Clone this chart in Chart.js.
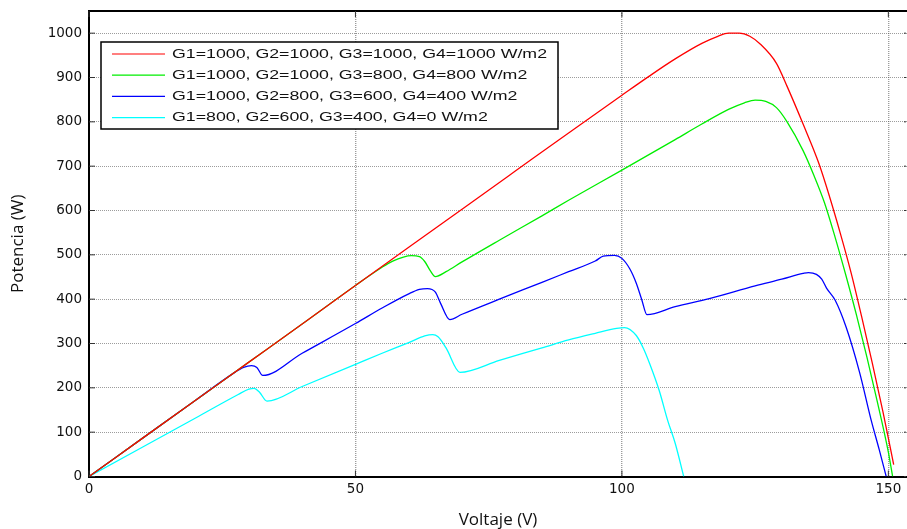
<!DOCTYPE html>
<html>
<head>
<meta charset="utf-8">
<script src="https://cdn.jsdelivr.net/npm/chart.js@4"></script>
<style>
  html, body { margin: 0; padding: 0; background: #fff; overflow: hidden; }
  #pvChart { display: block; }
</style>
</head>
<body>
<canvas id="pvChart" width="907" height="529"></canvas>
<script>
// Curvas P-V bajo distintas irradiancias
const seriesLabels = [
    "G1=1000, G2=1000, G3=1000, G4=1000 W/m2",
    "G1=1000, G2=1000, G3=800, G4=800 W/m2",
    "G1=1000, G2=800, G3=600, G4=400 W/m2",
    "G1=800, G2=600, G3=400, G4=0 W/m2"
];
const seriesColors = ["#ff0000", "#00ee00", "#0000ff", "#00ffff"];

const redV = [0, 10, 20, 30, 40, 50, 60, 70, 80, 90, 100, 105, 110, 115, 118, 120, 122, 124, 126, 129, 131, 134, 137, 139, 141, 143, 145, 147, 149, 151];
const redP = [0, 86, 172, 258, 344, 431, 517, 603, 689, 775, 860, 902, 942, 977, 993, 1000, 1000, 993, 975, 932, 880, 795, 705, 630, 548, 460, 360, 255, 145, 27];

const greenV = [0, 10, 20, 30, 40, 50, 55, 57, 59, 60.5, 62, 63, 64, 65, 67, 70, 77, 85, 90, 100, 110, 115, 120, 123, 125, 127, 129, 131, 134, 136, 138, 140, 142, 144, 146, 148, 150, 150.8];
const greenP = [0, 86, 172, 258, 344, 431, 472, 486, 495, 498, 496, 485, 465, 451, 462, 484, 533, 588, 623, 691, 760, 795, 828, 843, 849, 846, 832, 800, 735, 680, 618, 540, 455, 365, 268, 165, 55, 0];

const blueV = [0, 10, 20, 27, 29, 30.5, 31.5, 32.6, 40, 50, 55, 60, 62, 63.5, 65, 66, 67.7, 70, 77, 85, 90, 95, 96.5, 98.6, 100, 101.5, 102.7, 103.7, 104.7, 110, 116.4, 125, 130, 134, 135, 136.5, 137.5, 138.4, 140, 142.1, 144.6, 146.8, 148.3, 149.6];
const blueP = [0, 86, 172, 232, 246, 250, 246, 228, 278, 345, 380, 412, 422, 424, 416, 390, 354, 366, 400, 438, 462, 486, 497, 499, 492, 468, 436, 400, 365, 383, 401, 430, 445, 458, 460, 456, 445, 425, 398, 336, 235, 126, 60, 0];

const cyanV = [0, 10, 20, 28, 30, 31, 32, 33.4, 40, 50, 55, 60, 63, 64.5, 65.5, 67, 69.6, 77, 85, 90, 95, 99, 100.5, 102.7, 104, 105.2, 107, 108.6, 110, 111.6];
const cyanP = [0, 66, 132, 185, 197, 199, 190, 170, 203, 253, 278, 302, 317, 320, 315, 290, 235, 262, 290, 308, 323, 334, 336, 318, 290, 255, 194, 126, 75, 0];

const xTicksStep = 50;
const yTicksStep = 100;

function toPoints(vs, ps) {
    return vs.map((v, i) => ({ x: v, y: ps[i] }));
}

const allSeries = [[redV, redP], [greenV, greenP], [blueV, blueP], [cyanV, cyanP]];

// marco (arriba) + marcas de division hacia dentro (estilo MATLAB)
const framePlugin = {
    id: "frame",
    afterDatasetsDraw(chart) {
        const { ctx, chartArea: a, scales } = chart;
        ctx.save();
        ctx.strokeStyle = "#000";
        ctx.lineWidth = 2;
        ctx.beginPath();
        ctx.moveTo(a.left, a.top);
        ctx.lineTo(a.right, a.top);
        ctx.stroke();
        ctx.lineWidth = 1;
        ctx.strokeStyle = "#333";
        scales.y.ticks.forEach(t => {
            const y = scales.y.getPixelForValue(t.value);
            ctx.beginPath();
            ctx.moveTo(a.left, y); ctx.lineTo(a.left + 6, y);
            ctx.moveTo(a.right - 3, y); ctx.lineTo(a.right - 1, y);
            ctx.stroke();
        });
        scales.x.ticks.forEach(t => {
            const x = scales.x.getPixelForValue(t.value);
            ctx.beginPath();
            ctx.moveTo(x, a.bottom); ctx.lineTo(x, a.bottom - 6);
            ctx.moveTo(x, a.top); ctx.lineTo(x, a.top + 6);
            ctx.stroke();
        });
        ctx.restore();
    }
};

// leyenda con recuadro dentro del area del grafico
const boxLegend = {
    id: "boxLegend",
    afterDraw(chart) {
        const { ctx, chartArea: a } = chart;
        const bx = a.left + 12, by = a.top + 31, bw = 457, bh = 87;
        ctx.save();
        ctx.fillStyle = "#fff";
        ctx.fillRect(bx, by, bw, bh);
        ctx.strokeStyle = "#000";
        ctx.lineWidth = 1.5;
        ctx.strokeRect(bx, by, bw, bh);
        ctx.font = "13px 'Liberation Sans', Arial, sans-serif";
        ctx.textBaseline = "middle";
        const sx = 375 / ctx.measureText(seriesLabels[0]).width;
        chart.data.datasets.forEach((ds, i) => {
            const y = by + 12 + i * 21.2;
            ctx.strokeStyle = ds.borderColor;
            ctx.lineWidth = 1.2;
            ctx.beginPath();
            ctx.moveTo(bx + 11, y); ctx.lineTo(bx + 64, y);
            ctx.stroke();
            ctx.save();
            ctx.translate(bx + 71, y);
            ctx.scale(sx, 1);
            ctx.fillStyle = "#111";
            ctx.fillText(ds.label, 0, 0);
            ctx.restore();
        });
        ctx.restore();
    }
};

const ctx = document.getElementById("pvChart").getContext("2d");
const pvChart = new Chart(ctx, {
    type: "line",
    data: {
        datasets: allSeries.map((s, i) => ({
            label: seriesLabels[i],
            data: toPoints(s[0], s[1]),
            borderColor: seriesColors[i],
            backgroundColor: seriesColors[i],
            borderWidth: 1.3,
            pointRadius: 0,
            cubicInterpolationMode: "monotone",
            fill: false
        }))
    },
    options: {
        responsive: false,
        animation: false,
        devicePixelRatio: 1,
        layout: { padding: { top: 11, right: 0, left: 0, bottom: 0 } },
        plugins: {
            legend: { display: false },
            tooltip: { enabled: false }
        },
        scales: {
            x: {
                type: "linear",
                min: 0,
                max: 153.5,
                afterFit: s => {
                    s.height = 52.5;
                    s.paddingLeft = 0;
                    s.paddingRight = 0;
                },
                ticks: {
                    stepSize: xTicksStep,
                    includeBounds: false,
                    padding: 5,
                    color: "#111",
                    callback: v => String(v),
                    font: { family: "'DejaVu Sans', sans-serif", size: 13.5 }
                },
                grid: { color: "rgba(90,90,90,0.6)", lineWidth: 1.4, drawTicks: false },
                border: { color: "#000", width: 2, dash: [1, 1] },
                title: {
                    display: true,
                    text: "Voltaje (V)",
                    color: "#111",
                    padding: { top: 0, bottom: 0 },
                    font: { family: "'Open Sans', sans-serif", size: 17, lineHeight: 1 }
                }
            },
            y: {
                min: 0,
                max: 1050,
                afterFit: s => {
                    s.width = 89;
                    s.paddingTop = 0;
                    s.paddingBottom = 0;
                },
                ticks: {
                    stepSize: yTicksStep,
                    includeBounds: false,
                    padding: 7,
                    color: "#111",
                    callback: v => String(v),
                    font: { family: "'DejaVu Sans', sans-serif", size: 13.5 }
                },
                grid: { color: "rgba(90,90,90,0.6)", lineWidth: 1, drawTicks: false },
                border: { color: "#000", width: 2, dash: [1, 1] },
                title: {
                    display: true,
                    text: "Potencia (W)",
                    color: "#111",
                    padding: { top: 9.5, bottom: 0 },
                    font: { family: "'Open Sans', sans-serif", size: 17, lineHeight: 1 }
                }
            }
        }
    },
    plugins: [framePlugin, boxLegend]
});
</script>
</body>
</html>
